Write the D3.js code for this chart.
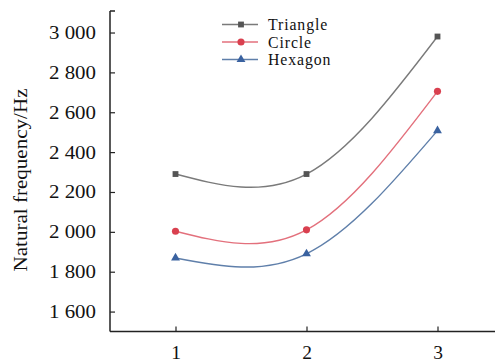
<!DOCTYPE html>
<html><head><meta charset="utf-8">
<script src="https://cdn.jsdelivr.net/npm/d3@7"></script>
<style>body{margin:0;background:#fff}svg{display:block}</style>
</head><body>
<svg id="c" width="495" height="363"></svg>
<script>
const categories = [1, 2, 3];
const triangle = [2290, 2290, 2980];
const circle = [2003, 2010, 2705];
const hexagon = [1869, 1890, 2508];
const yTicks = [1600, 1800, 2000, 2200, 2400, 2600, 2800, 3000];
const seriesNames = ["Triangle", "Circle", "Hexagon"];

const series = [
  {name: seriesNames[0], values: triangle, line: "#7a7a7a", mark: "#555555", shape: d3.symbolSquare, size: 34},
  {name: seriesNames[1], values: circle, line: "#e3707c", mark: "#d9404f", shape: d3.symbolCircle, size: 40},
  {name: seriesNames[2], values: hexagon, line: "#5f7faa", mark: "#3a62a0", shape: d3.symbolTriangle, size: 34}
];

const FONT = "Liberation Serif";
const svg = d3.select("#c");
const mLeft = 110, mBottom = 331.5, mTop = 11;
const x = d3.scaleLinear().domain([0.5, 3.5]).range([mLeft, mLeft + 3 * 131]);
const y = d3.scaleLinear().domain([1500, 3108]).range([mBottom, mTop]);

// axes
const yAxis = svg.append("g").attr("transform", `translate(${mLeft},0)`)
  .call(d3.axisLeft(y).tickValues(yTicks).tickSizeInner(-5).tickSizeOuter(0)
    .tickFormat(d => d3.format(",")(d).replace(",", " ")).tickPadding(14));
yAxis.select(".domain").remove();
yAxis.selectAll("text").style("font-family", FONT).style("font-size", "18.5px")
  .attr("textLength", 47).attr("lengthAdjust", "spacingAndGlyphs").attr("fill", "#111");
yAxis.selectAll("line").attr("stroke", "#222").attr("stroke-width", 1.2);

svg.append("line").attr("x1", mLeft).attr("x2", mLeft).attr("y1", mTop).attr("y2", mBottom)
  .attr("stroke", "#222").attr("stroke-width", 1.5);
svg.append("line").attr("x1", mLeft).attr("x2", mLeft + 5).attr("y1", mTop).attr("y2", mTop)
  .attr("stroke", "#222").attr("stroke-width", 1.5);

const xAxis = svg.append("g").attr("transform", `translate(0,${mBottom})`)
  .call(d3.axisBottom(x).tickValues(categories).tickFormat(d3.format("d"))
    .tickSizeInner(-5).tickSizeOuter(0).tickPadding(14));
xAxis.select(".domain").remove();
xAxis.selectAll("text").style("font-family", FONT).style("font-size", "19.5px").attr("fill", "#111");
xAxis.selectAll("line").attr("stroke", "#222").attr("stroke-width", 1.2);
svg.append("line").attr("x1", mLeft).attr("x2", 495).attr("y1", mBottom).attr("y2", mBottom)
  .attr("stroke", "#222").attr("stroke-width", 1.5);

// y title
svg.append("text").attr("transform", "translate(27,180) rotate(-90)")
  .attr("text-anchor", "middle").style("font-family", FONT).style("font-size", "18.5px")
  .attr("textLength", 183).attr("lengthAdjust", "spacingAndGlyphs").attr("fill", "#111")
  .text("Natural frequency/Hz");

// lines
const line = d3.line().x((d, i) => x(categories[i])).y(d => y(d)).curve(d3.curveNatural);
series.forEach(s => {
  svg.append("path").attr("d", line(s.values)).attr("fill", "none")
    .attr("stroke", s.line).attr("stroke-width", 1.4);
  svg.selectAll(null).data(s.values).enter().append("path")
    .attr("transform", (d, i) => `translate(${x(categories[i])},${y(d)})`)
    .attr("d", d3.symbol().type(s.shape).size(s.size)).attr("fill", s.mark);
});

// legend
const lg = svg.append("g");
series.forEach((s, i) => {
  const yy = 24.5 + i * 17.5;
  lg.append("line").attr("x1", 222).attr("x2", 258).attr("y1", yy).attr("y2", yy)
    .attr("stroke", s.line).attr("stroke-width", 1.4);
  lg.append("path").attr("transform", `translate(241,${yy})`)
    .attr("d", d3.symbol().type(s.shape).size(s.size)).attr("fill", s.mark);
  lg.append("text").attr("x", 268).attr("y", yy + 5.8)
    .style("font-family", FONT).style("font-size", "15.8px").style("letter-spacing", "0.9px")
    .attr("fill", "#111").text(s.name);
});
</script>
</body></html>
